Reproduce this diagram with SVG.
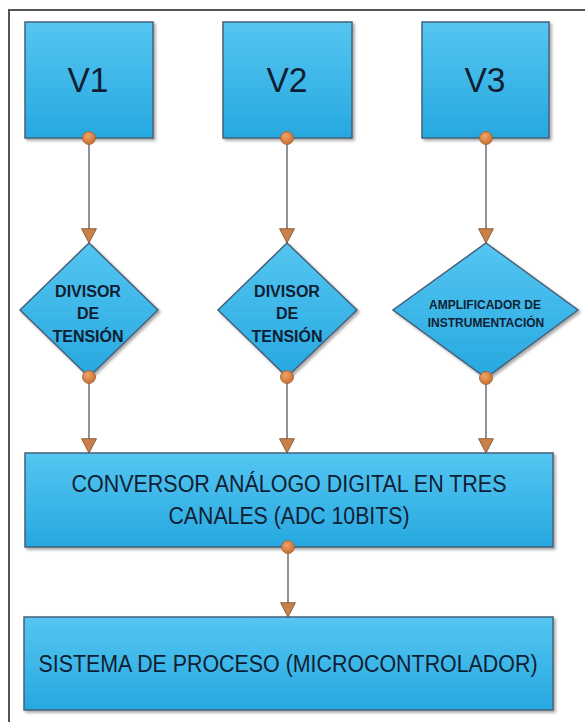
<svg xmlns="http://www.w3.org/2000/svg" width="585" height="722" viewBox="0 0 585 722">
  <defs>
    <linearGradient id="blue" x1="0" y1="0" x2="0" y2="1">
      <stop offset="0" stop-color="#55C6F1"/>
      <stop offset="1" stop-color="#26A8E0"/>
    </linearGradient>
    <radialGradient id="dot" cx="0.4" cy="0.35" r="0.7">
      <stop offset="0" stop-color="#F2A46A"/>
      <stop offset="1" stop-color="#C46C2E"/>
    </radialGradient>
    <filter id="sh" x="-5%" y="-5%" width="110%" height="115%">
      <feGaussianBlur in="SourceAlpha" stdDeviation="1.5"/>
      <feOffset dx="1.5" dy="2" result="b"/>
      <feComponentTransfer><feFuncA type="linear" slope="0.35"/></feComponentTransfer>
      <feMerge><feMergeNode/><feMergeNode in="SourceGraphic"/></feMerge>
    </filter>
    <marker id="arr" markerUnits="userSpaceOnUse" markerWidth="16" markerHeight="16" refX="7" refY="13" orient="0" viewBox="0 0 14 14">
      <polygon points="0.5,0.5 13.5,0.5 7,13" fill="#C98049" stroke="#8A5A35" stroke-width="0.8"/>
    </marker>
  </defs>
  <style>
    .box{fill:url(#blue);stroke:#46607A;stroke-width:1.5;filter:url(#sh)}
    .conn{stroke:#6E6E6E;stroke-width:1.5;fill:none;marker-end:url(#arr)}
    .dot{fill:url(#dot);stroke:#9E5E30;stroke-width:0.8}
    text{font-family:"Liberation Sans",Arial,sans-serif;fill:#0F1E33;text-anchor:middle}
    .big{font-size:35px}
    .dv{font-size:16px;font-weight:bold}
    .amp{font-size:12px;font-weight:bold}
    .lg{font-size:23px}
  </style>
  <rect x="0" y="0" width="585" height="722" fill="#FFFFFF"/>
  <path d="M9,722 V10 H585" fill="none" stroke="#555555" stroke-width="2"/>

  <g id="connectors">
    <line class="conn" x1="89" y1="138" x2="89" y2="243"/>
    <line class="conn" x1="287" y1="138" x2="287" y2="243"/>
    <line class="conn" x1="486" y1="138" x2="486" y2="243"/>
    <line class="conn" x1="89" y1="377" x2="89" y2="453"/>
    <line class="conn" x1="287" y1="377" x2="287" y2="453"/>
    <line class="conn" x1="486" y1="378" x2="486" y2="453"/>
    <line class="conn" x1="288" y1="547" x2="288" y2="617"/>
  </g>

  <g id="v1">
    <rect class="box" x="25" y="22" width="128" height="116"/>
    <text class="big" x="88" y="92" textLength="41" lengthAdjust="spacingAndGlyphs">V1</text>
    <circle class="dot" cx="89" cy="138" r="6.5"/>
  </g>
  <g id="v2">
    <rect class="box" x="223" y="22" width="129" height="116"/>
    <text class="big" x="287" y="92" textLength="41" lengthAdjust="spacingAndGlyphs">V2</text>
    <circle class="dot" cx="287" cy="138" r="6.5"/>
  </g>
  <g id="v3">
    <rect class="box" x="422" y="22" width="127" height="116"/>
    <text class="big" x="485" y="92" textLength="41" lengthAdjust="spacingAndGlyphs">V3</text>
    <circle class="dot" cx="486" cy="138" r="6.5"/>
  </g>

  <g id="divisor1">
    <polygon class="box" points="89,243 158,310 89,377 20,310"/>
    <text class="dv" x="88" y="297">DIVISOR</text>
    <text class="dv" x="88" y="319">DE</text>
    <text class="dv" x="88" y="342">TENSIÓN</text>
    <circle class="dot" cx="89" cy="377" r="6.5"/>
  </g>
  <g id="divisor2">
    <polygon class="box" points="287,243 357,310 287,377 218,310"/>
    <text class="dv" x="287" y="297">DIVISOR</text>
    <text class="dv" x="287" y="319">DE</text>
    <text class="dv" x="287" y="342">TENSIÓN</text>
    <circle class="dot" cx="287" cy="377" r="6.5"/>
  </g>
  <g id="amplificador">
    <polygon class="box" points="486,243 578,310 486,378 393,310"/>
    <text class="amp" x="485" y="309">AMPLIFICADOR DE</text>
    <text class="amp" x="486" y="327">INSTRUMENTACIÓN</text>
    <circle class="dot" cx="486" cy="378" r="6.5"/>
  </g>

  <g id="conversor">
    <rect class="box" x="25" y="453" width="528" height="94"/>
    <text class="lg" x="289" y="492" textLength="435" lengthAdjust="spacingAndGlyphs">CONVERSOR ANÁLOGO DIGITAL EN TRES</text>
    <text class="lg" x="289" y="524" textLength="241" lengthAdjust="spacingAndGlyphs">CANALES (ADC 10BITS)</text>
    <circle class="dot" cx="288" cy="547" r="6.5"/>
  </g>

  <g id="sistema">
    <rect class="box" x="24" y="617" width="529" height="93"/>
    <text class="lg" x="288" y="672" textLength="499" lengthAdjust="spacingAndGlyphs">SISTEMA DE PROCESO (MICROCONTROLADOR)</text>
  </g>
</svg>
